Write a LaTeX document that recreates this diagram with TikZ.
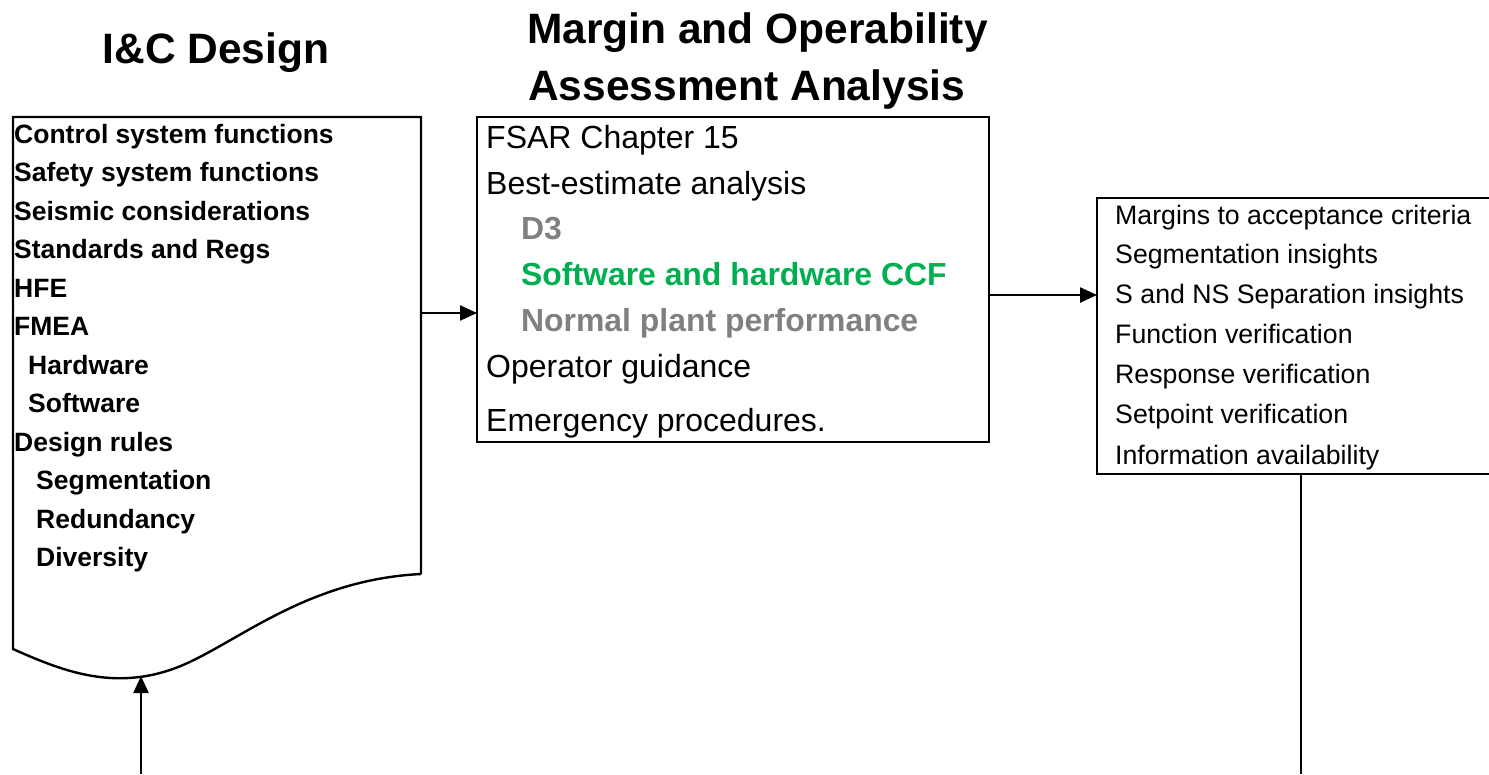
\documentclass[tikz,border=0pt]{standalone}
\usepackage{fontspec}
\setmainfont{Liberation Sans}
\usetikzlibrary{arrows.meta}
\definecolor{ccfgreen}{RGB}{0,176,80}
\definecolor{softgray}{RGB}{128,128,128}
\begin{document}
\begin{tikzpicture}[x=1pt,y=-1pt,
  line width=2.4pt,
  arr/.style={-{Triangle[length=17pt,width=15pt]}, line width=2.4pt},
  boxnode/.style={draw, line width=2.4pt, anchor=north west, inner sep=0pt, outer sep=0pt},
  lefttxt/.style={anchor=base west, inner sep=0pt, font=\fontsize{26.5}{30}\selectfont\bfseries},
  midtxt/.style={anchor=base west, inner sep=0pt, font=\fontsize{32}{38}\selectfont},
  midsub/.style={anchor=base west, inner sep=0pt, font=\fontsize{31.9}{38}\selectfont\bfseries},
  righttxt/.style={anchor=base west, inner sep=0pt, font=\fontsize{26.7}{30}\selectfont},
  titletxt/.style={inner sep=0pt, font=\fontsize{42.5}{50}\selectfont\bfseries}]
\useasboundingbox (0,0) rectangle (1489,774);
\clip (0,0) rectangle (1489,774);

% titles
\node[titletxt, anchor=base] (t1) at (216,63) {I\&C Design};
\node[titletxt, anchor=base west] (t2) at (526,43) {Margin and Operability};
\node[titletxt, anchor=base west] (t3) at (527,100) {Assessment Analysis};

% left document shape
\draw (421,574) -- (421,117) -- (13,117) -- (13,649)
  .. controls (60,670) and (110,690) .. (170,670)
  .. controls (230,650) and (300,580) .. (421,574);
\coordinate (docR) at (421,313);
\coordinate (docB) at (141,676);
\coordinate (in1) at (141,774);

\node[lefttxt] (l1) at (13,143) {Control system functions};
\node[lefttxt] (l2) at (13,181.5) {Safety system functions};
\node[lefttxt] (l3) at (13,220) {Seismic considerations};
\node[lefttxt] (l4) at (13,258.5) {Standards and Regs};
\node[lefttxt] (l5) at (13,297) {HFE};
\node[lefttxt] (l6) at (13,335.5) {FMEA};
\node[lefttxt] (l7) at (27,374) {Hardware};
\node[lefttxt] (l8) at (27,412.5) {Software};
\node[lefttxt] (l9) at (13,451) {Design rules};
\node[lefttxt] (l10) at (35,489.5) {Segmentation};
\node[lefttxt] (l11) at (35,528) {Redundancy};
\node[lefttxt] (l12) at (35,566.5) {Diversity};

% middle box
\node[boxnode, minimum width=512pt, minimum height=325pt] (mid) at (477,117) {};
\node[midtxt] (m1) at (485,148) {FSAR Chapter 15};
\node[midtxt] (m2) at (485,194) {Best-estimate analysis};
\node[midsub, text=softgray] (m3) at (520,239) {D3};
\node[midsub, text=ccfgreen] (m4) at (520,285) {Software and hardware CCF};
\node[midsub, text=softgray] (m5) at (520,331) {Normal plant performance};
\node[midtxt] (m6) at (485,377) {Operator guidance};
\node[midtxt] (m7) at (485,431) {Emergency procedures.};

% right box (right border beyond the picture edge)
\node[boxnode, minimum width=420pt, minimum height=276pt] (rbox) at (1097,198) {};
\node[righttxt] (r1) at (1114,224.5) {Margins to acceptance criteria};
\node[righttxt] (r2) at (1114,263.5) {Segmentation insights};
\node[righttxt] (r3) at (1114,303.5) {S and NS Separation insights};
\node[righttxt] (r4) at (1114,343.5) {Function verification};
\node[righttxt] (r5) at (1114,383.5) {Response verification};
\node[righttxt] (r6) at (1114,423.5) {Setpoint verification};
\node[righttxt] (r7) at (1114,464.5) {Information availability};

% connectors
\coordinate (midR) at (989,295);
\coordinate (bot2) at (1301,774);
\draw[arr] (docR) -- (mid.west |- docR);
\draw[arr] (mid.east |- midR) -- (rbox.west |- midR);
\draw (rbox.south -| bot2) -- (bot2);
\draw[arr] (in1) -- (docB);
\end{tikzpicture}
\end{document}
